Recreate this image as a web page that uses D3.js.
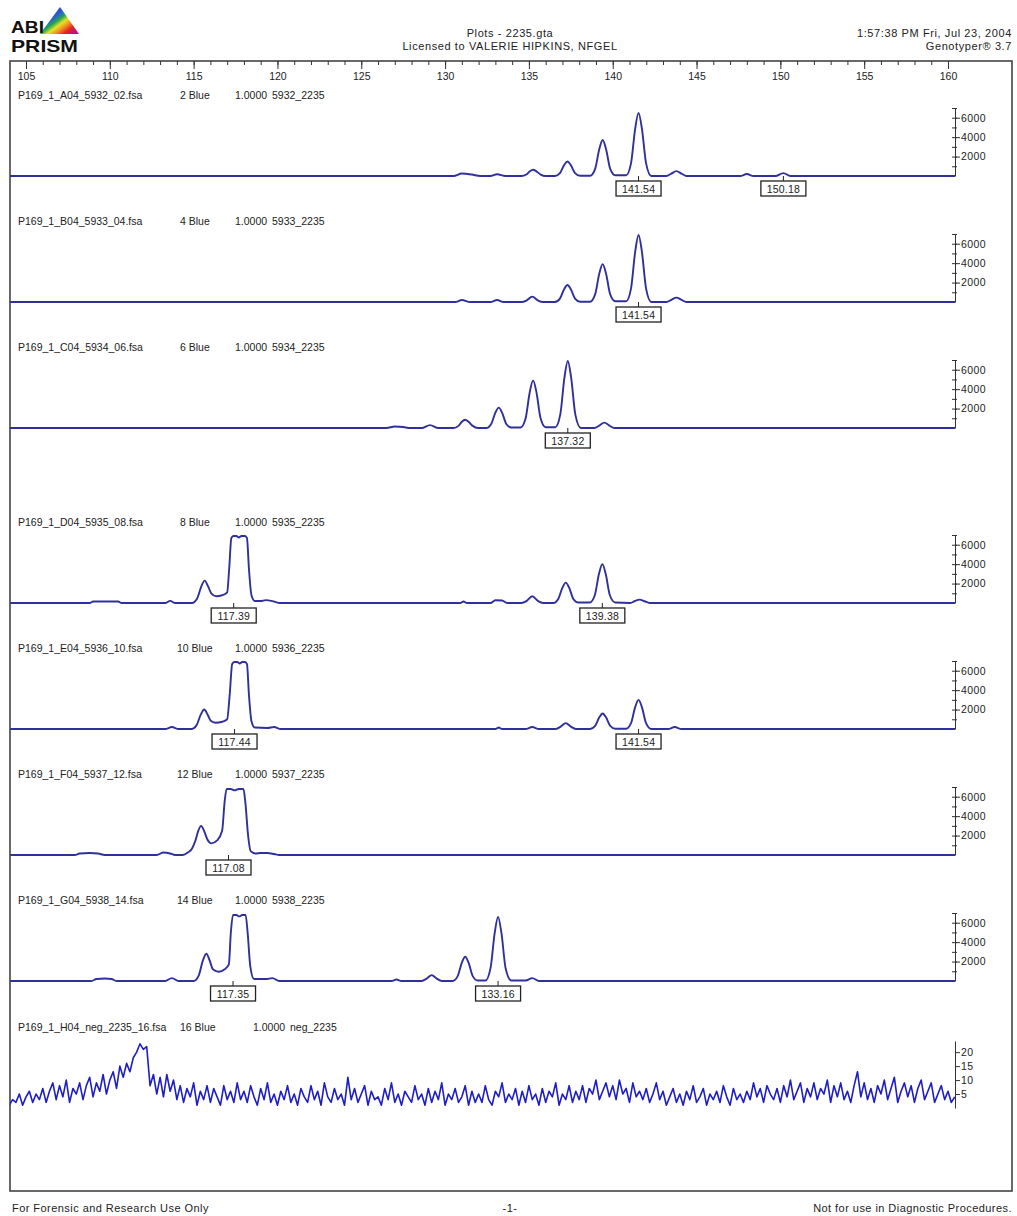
<!DOCTYPE html>
<html>
<head>
<meta charset="utf-8">
<script src="https://cdn.jsdelivr.net/npm/d3@7"></script>
<style>
  body { margin: 0; background: #fff; }
  text { font-family: "Liberation Sans", Arial, sans-serif; fill: #222; }
</style>
</head>
<body>
<svg id="chart"></svg>
<script>
// ---- data ----
var sizeTicks = [105, 110, 115, 120, 125, 130, 135, 140, 145, 150, 155, 160];
var fileNames = ["P169_1_A04_5932_02.fsa", "P169_1_B04_5933_04.fsa", "P169_1_C04_5934_06.fsa",
  "P169_1_D04_5935_08.fsa", "P169_1_E04_5936_10.fsa", "P169_1_F04_5937_12.fsa",
  "P169_1_G04_5938_14.fsa", "P169_1_H04_neg_2235_16.fsa"];
var dyeLabels = ["2 Blue", "4 Blue", "6 Blue", "8 Blue", "10 Blue", "12 Blue", "14 Blue", "16 Blue"];
var scaleLabels = ["1.0000", "1.0000", "1.0000", "1.0000", "1.0000", "1.0000", "1.0000", "1.0000"];
var sampleNames = ["5932_2235", "5933_2235", "5934_2235", "5935_2235", "5936_2235", "5937_2235", "5938_2235", "neg_2235"];

// called peak sizes (bp) per lane
var peakCalls = [[141.54, 150.18], [141.54], [137.32], [117.39, 139.38], [117.44, 141.54], [117.08], [117.35, 133.16], []];

// rfu ticks
var rfuTicks = [2000, 4000, 6000];
var rfuMinor = [1000, 2000, 3000, 4000, 5000, 6000, 7000];
var noiseTicks = [5, 10, 15, 20];

// traces: [size bp, rfu]
var traceA04 = [[104,0],[130.5,0],[131.0,250],[131.6,150],[132.1,0],[132.7,0],[133.1,180],[133.6,0],
  [134.55,0],[134.85,150],[135.05,480],[135.25,650],[135.45,480],[135.7,150],[136.0,0],
  [136.55,0],[136.85,300],[137.1,1120],[137.3,1500],[137.5,1120],[137.75,300],[138.05,30],
  [138.65,30],[138.95,740],[139.2,2780],[139.4,3700],[139.6,2780],[139.85,740],[140.15,80],
  [140.8,80],[141.09,1300],[141.34,4880],[141.54,6500],[141.74,4880],[141.99,1300],[142.3,0],
  [143.2,0],[143.5,250],[143.8,500],[144.1,250],[144.4,0],
  [147.6,0],[148.0,200],[148.4,0],[149.7,0],[150.18,300],[150.6,0],[160.45,0]];
var traceB04 = [[104,0],[130.6,0],[131.0,200],[131.5,0],[132.7,0],[133.1,200],[133.5,0],
  [134.55,0],[134.85,150],[135.2,550],[135.55,150],[135.85,0],
  [136.55,0],[136.85,350],[137.1,1310],[137.3,1750],[137.5,1310],[137.75,350],[138.05,30],
  [138.65,30],[138.95,780],[139.2,2930],[139.4,3900],[139.6,2930],[139.85,780],[140.15,80],
  [140.8,80],[141.09,1380],[141.34,5180],[141.54,6900],[141.74,5180],[141.99,1380],[142.3,0],
  [143.2,0],[143.5,220],[143.8,450],[144.1,220],[144.4,0],[160.45,0]];
var traceC04 = [[104,0],[126.5,0],[127.0,150],[127.5,100],[127.9,0],[128.6,0],[129.1,300],[129.6,0],
  [130.5,0],[130.8,220],[131.0,640],[131.2,850],[131.4,640],[131.65,220],[131.95,0],
  [132.45,0],[132.75,420],[133.0,1580],[133.2,2100],[133.4,1580],[133.65,420],[133.95,50],
  [134.5,50],[134.8,980],[135.05,3680],[135.25,4900],[135.45,3680],[135.7,980],[136.0,80],
  [136.57,80],[136.87,1380],[137.12,5180],[137.32,6900],[137.52,5180],[137.77,1380],[138.1,0],
  [138.9,0],[139.2,250],[139.5,550],[139.8,250],[140.1,0],[160.45,0]];
var traceD04 = [[104,0],[108.8,0],[109.0,150],[110.5,150],[110.7,0],[113.3,0],[113.6,220],[113.9,0],
  [114.9,0],[115.21,460],[115.46,1720],[115.66,2300],[115.86,1720],[116.05,1000],[116.35,700],
  [116.7,800],[117.0,1100],[117.12,3500],[117.25,6700],[117.39,6900],[117.55,6900],[117.7,6750],
  [117.85,6900],[118.05,6900],[118.18,6700],[118.3,3500],[118.45,800],[118.65,200],[119.0,200],
  [119.3,300],[119.7,200],[120.1,0],
  [130.9,0],[131.1,150],[131.3,0],[132.7,0],[133.0,280],[133.4,250],[133.7,0],
  [134.55,0],[134.85,200],[135.2,700],[135.55,200],[135.85,0],
  [136.45,0],[136.75,420],[137.0,1580],[137.2,2100],[137.4,1580],[137.65,420],[137.95,50],
  [138.63,50],[138.93,800],[139.18,3000],[139.38,4000],[139.58,3000],[139.83,800],[140.15,50],
  [141.05,0],[141.3,180],[141.6,350],[141.9,180],[142.2,0],[160.45,0]];
var traceE04 = [[104,0],[113.3,0],[113.7,200],[114.1,0],
  [114.9,0],[115.18,400],[115.43,1500],[115.63,2000],[115.83,1500],[116.02,850],[116.3,650],
  [116.7,750],[117.0,1000],[117.15,3500],[117.3,6700],[117.44,6900],[117.6,6900],[117.75,6750],
  [117.9,6900],[118.05,6900],[118.18,6700],[118.3,3500],[118.45,800],[118.65,150],[119.4,100],
  [119.8,200],[120.2,0],
  [133.0,0],[133.2,150],[133.4,0],[134.8,0],[135.2,200],[135.6,0],
  [136.6,0],[136.9,250],[137.2,600],[137.5,250],[137.8,0],
  [138.65,0],[138.95,320],[139.2,1200],[139.4,1600],[139.6,1200],[139.85,320],[140.15,30],
  [140.8,30],[141.09,600],[141.34,2250],[141.54,3000],[141.74,2250],[141.99,600],[142.3,0],
  [143.3,0],[143.7,200],[144.1,0],[160.45,0]];
var traceF04 = [[104,0],[107.9,0],[108.2,150],[108.8,200],[109.3,150],[109.7,0],[112.8,0],
  [113.2,250],[113.6,150],[113.9,0],[114.35,0],[114.65,250],
  [114.9,650],[115.1,1450],[115.28,2500],[115.44,3000],[115.62,2500],[115.82,1600],[116.07,1200],
  [116.4,1500],[116.7,2500],[116.85,5500],[116.97,6800],[117.2,6800],[117.45,6650],[117.7,6800],
  [117.97,6800],[118.08,5500],[118.25,2000],[118.4,400],[118.7,150],[119.0,200],[119.4,200],
  [119.8,100],[120.1,0],[160.45,0]];
var traceG04 = [[104,0],[108.9,0],[109.2,200],[109.7,250],[110.1,200],[110.4,0],[113.3,0],[113.7,300],[114.1,0],
  [115.0,0],[115.3,560],[115.55,2100],[115.76,2800],[115.96,2100],[116.15,1200],[116.5,950],
  [116.85,1200],[117.1,1700],[117.22,5000],[117.35,6800],[117.55,6800],[117.72,6650],[117.9,6800],
  [118.1,6800],[118.22,5000],[118.38,1500],[118.6,200],[119.3,200],[119.7,300],[120.1,0],
  [126.8,0],[127.1,150],[127.4,0],[128.6,0],[128.9,250],[129.2,600],[129.5,250],[129.8,0],
  [130.45,0],[130.75,500],[131.0,1880],[131.2,2500],[131.4,1880],[131.65,500],[131.95,50],
  [132.41,50],[132.71,1320],[132.96,4950],[133.16,6600],[133.36,4950],[133.61,1320],[133.95,50],
  [134.8,50],[135.2,300],[135.6,0],[160.45,0]];
var traces = [traceA04, traceB04, traceC04, traceD04, traceE04, traceF04, traceG04];

// negative control lane: rfu every 0.2 bp starting at 104.0
var noiseStart = 104.0, noiseStep = 0.2;
var noiseH04 = [
  1,3,2,5,1,4,6,2,5,3,  7,2,6,9,3,8,4,10,2,7,  5,9,3,8,11,4,9,6,12,5,
  10,13,7,15,11,16,13,18,20,23,  21,22,8,12,5,11,4,12,6,10,  3,8,2,7,4,9,1,6,3,8,
  2,7,4,1,8,3,6,2,9,3,  6,2,8,4,1,7,3,9,2,5,  1,6,3,8,2,5,1,7,4,2,
  8,3,6,1,9,4,2,7,3,5,  1,11,3,7,2,5,8,1,6,3,  4,1,7,3,9,2,5,1,6,4,
  2,8,3,5,1,7,2,6,3,9,  1,5,3,7,2,4,8,1,6,2,  5,2,8,3,1,6,4,9,2,5,
  3,7,1,6,2,8,3,5,1,7,  2,6,4,9,1,5,3,8,2,6,  3,8,2,7,5,10,3,6,9,4,
  8,3,10,5,7,2,9,4,6,3,  7,2,5,9,3,6,1,4,7,2,  5,1,6,3,8,2,4,7,1,5,
  3,6,2,8,4,1,7,3,5,2,  6,3,9,4,7,2,8,5,3,7,  2,8,4,10,3,6,9,2,7,4,
  9,3,7,5,10,2,8,4,9,3,  6,2,8,13,4,9,3,7,2,8,  5,10,3,7,11,2,6,9,4,8,
  2,7,10,3,6,9,2,5,8,3,  6,2,4];

// ---- layout ----
var W = 1017, H = 1216;
var frame = { left: 10, top: 61, right: 1012, bottom: 1191 };
var axisX = 955;
var baselines = [176, 302, 428, 603, 729, 855, 981];
var noiseBase = 1108;
var traceColor = "#30309c";
var fontStack = '"Liberation Sans", Arial, sans-serif';

var svg = d3.select("#chart").attr("width", W).attr("height", H);

var x = d3.scaleLinear().domain([105, 160]).range([26, 948]);

svg.append("defs").append("clipPath").attr("id", "plotclip")
  .append("rect").attr("x", frame.left).attr("y", frame.top)
  .attr("width", axisX - frame.left).attr("height", frame.bottom - frame.top);

//logo
var grad = svg.select("defs").append("linearGradient").attr("id", "prism")
  .attr("x1", 0.15).attr("y1", 0.1).attr("x2", 0.95).attr("y2", 0.85);
[["0", "#2b2bb8"], ["0.32", "#2c5fd0"], ["0.45", "#22a84a"], ["0.58", "#e6e22a"],
 ["0.72", "#f08a22"], ["0.86", "#e02424"], ["1", "#c0147a"]].forEach(function (s) {
  grad.append("stop").attr("offset", s[0]).attr("stop-color", s[1]);
});
svg.append("polygon").attr("points", "60,7 40,34 79,34").attr("fill", "url(#prism)");
svg.append("text").attr("x", 11).attr("y", 33).attr("font-size", 17).attr("font-weight", "bold")
  .attr("textLength", 33).attr("lengthAdjust", "spacingAndGlyphs").style("fill", "#111").text("ABI");
svg.append("text").attr("x", 11).attr("y", 52).attr("font-size", 17).attr("font-weight", "bold")
  .attr("textLength", 67).attr("lengthAdjust", "spacingAndGlyphs").style("fill", "#111").text("PRISM");

//text helper
function txt(xp, yp, s, anchor, size, spacing) {
  return svg.append("text").attr("x", xp).attr("y", yp).attr("text-anchor", anchor || "start")
    .attr("font-size", size || 10.5).attr("letter-spacing", spacing || 0).text(s);
}
//header texts
txt(510, 37, "Plots - 2235.gta", "middle", 11, 0.6);
txt(510, 50, "Licensed to VALERIE HIPKINS, NFGEL", "middle", 11, 0.6);
txt(1012, 37, "1:57:38  PM Fri, Jul 23, 2004", "end", 11, 0.6);
txt(1012, 50, "Genotyper\u00AE 3.7", "end", 11, 0.6);

//footer texts
txt(12, 1212, "For Forensic and Research Use Only", "start", 11, 0.45);
txt(510, 1212, "-1-", "middle", 11, 0.45);
txt(1012, 1212, "Not for use in Diagnostic Procedures.", "end", 11, 0.45);

//outer frame
svg.append("rect").attr("x", frame.left).attr("y", frame.top)
  .attr("width", frame.right - frame.left).attr("height", frame.bottom - frame.top)
  .attr("fill", "none").attr("stroke", "#444").attr("stroke-width", 1.6);

//size ruler along the top
var minorSizes = d3.range(105, 161);
var ruler = svg.append("g").attr("transform", "translate(0," + frame.top + ")");
ruler.append("g").call(d3.axisBottom(x).tickValues(minorSizes).tickSize(4).tickFormat(""))
  .call(function (g) { g.select(".domain").remove(); });
ruler.append("g").call(d3.axisBottom(x).tickValues(sizeTicks).tickSize(8).tickPadding(4))
  .call(function (g) {
    g.select(".domain").remove();
    g.selectAll("text").attr("font-size", 10.5).style("font-family", fontStack).style("fill", "#222");
  });
ruler.selectAll("line").attr("stroke", "#333");

//lane header row
function laneLabel(i, yp) {
  var dyeX = 180, scX = 235, smX = 272;
  if (i >= 4 && i <= 6) dyeX = 177;
  if (i === 7) { dyeX = 180; scX = 253; smX = 290; }
  txt(18, yp, fileNames[i]);
  txt(dyeX, yp, dyeLabels[i]);
  txt(scX, yp, scaleLabels[i]);
  txt(smX, yp, sampleNames[i]);
}

var plots = svg.append("g").attr("clip-path", "url(#plotclip)");

traces.forEach(function (tr, i) {
  var base = baselines[i];
  var y = d3.scaleLinear().domain([0, 7000]).range([base, base - 68]);

  laneLabel(i, base - 77);

  var line = d3.line().x(function (d) { return x(d[0]); })
    .y(function (d) { return y(d[1]); }).curve(d3.curveMonotoneX);
  plots.append("path").datum(tr).attr("d", line).attr("fill", "none")
    .attr("stroke", traceColor).attr("stroke-width", 1.9).attr("stroke-linejoin", "round");

  //rfu axis
  var ax = svg.append("g").attr("transform", "translate(" + axisX + ",0)");
  ax.append("g").call(d3.axisLeft(y).tickValues(rfuMinor).tickSize(3).tickFormat("").tickSizeOuter(0))
    .call(function (g) { g.select(".domain").remove(); });
  ax.append("g").call(d3.axisRight(y).tickValues(rfuTicks).tickSize(5).tickPadding(1)
      .tickFormat(d3.format("d")).tickSizeOuter(0))
    .call(function (g) {
      g.selectAll("text").attr("font-size", 10.5).attr("letter-spacing", 0.4)
        .style("font-family", fontStack).style("fill", "#222");
    });
  ax.append("g").call(d3.axisRight(y).tickValues(rfuMinor).tickSize(2).tickFormat("").tickSizeOuter(0))
    .call(function (g) { g.select(".domain").remove(); });
  ax.selectAll("line, path").attr("stroke", "#333");

  //peak call boxes
  peakCalls[i].forEach(function (c) {
    var cx = x(c);
    svg.append("line").attr("x1", cx).attr("x2", cx).attr("y1", base).attr("y2", base + 5)
      .attr("stroke", "#222").attr("stroke-width", 1);
    svg.append("rect").attr("x", cx - 22.5).attr("y", base + 5).attr("width", 45).attr("height", 15)
      .attr("fill", "#fff").attr("stroke", "#222").attr("stroke-width", 1.3);
    txt(cx, base + 16.5, c.toFixed(2), "middle", 10.5, 0.2);
  });
});

//negative control lane
(function () {
  var yN = d3.scaleLinear().domain([0, 24]).range([noiseBase, noiseBase - 67]);
  laneLabel(7, noiseBase - 77);
  var line = d3.line().x(function (d, k) { return x(noiseStart + k * noiseStep); })
    .y(function (d) { return yN(d); });
  plots.append("path").datum(noiseH04).attr("d", line).attr("fill", "none")
    .attr("stroke", "#1e1ec6").attr("stroke-width", 1.6).attr("stroke-linejoin", "round");
  var ax = svg.append("g").attr("transform", "translate(" + axisX + ",0)");
  ax.append("g").call(d3.axisRight(yN).tickValues(noiseTicks).tickSize(5).tickPadding(1).tickSizeOuter(0))
    .call(function (g) {
      g.selectAll("text").attr("font-size", 10.5).attr("letter-spacing", 0.4)
        .style("font-family", fontStack).style("fill", "#222");
    });
  ax.selectAll("line, path").attr("stroke", "#333");
})();
</script>
</body>
</html>
